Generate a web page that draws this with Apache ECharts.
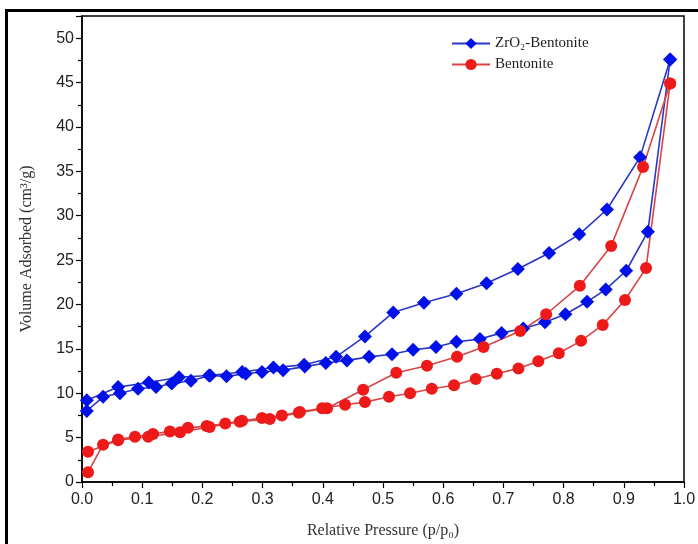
<!DOCTYPE html>
<html>
<head>
<meta charset="utf-8">
<script src="https://cdn.jsdelivr.net/npm/echarts@6/dist/echarts.min.js"></script>
<style>
  html, body { margin: 0; padding: 0; background: #fff; }
  #chart { width: 698px; height: 544px; }
  #frame { position: absolute; left: 5px; top: 9px; width: 700px; height: 540px;
           border-left: 3px solid #000; border-top: 3px solid #000; pointer-events: none; }
</style>
</head>
<body>
<div id="chart"></div>
<div id="frame"></div>
<script>
// ZrO2-Bentonite, adsorption branch
const zrAdsP = [0.008, 0.035, 0.063, 0.093, 0.123, 0.149, 0.181, 0.213, 0.24, 0.272, 0.299, 0.334, 0.37, 0.405, 0.44,
  0.477, 0.515, 0.55, 0.588, 0.622, 0.661, 0.697, 0.733, 0.769, 0.803, 0.839, 0.87, 0.904, 0.94, 0.977]
const zrAdsV = [8.0, 9.6, 10.0, 10.5, 10.7, 11.1, 11.4, 12.0, 11.9, 12.2, 12.4, 12.6, 13.0, 13.4, 13.7,
  14.1, 14.4, 14.9, 15.2, 15.8, 16.1, 16.8, 17.3, 18.0, 18.9, 20.3, 21.7, 23.8, 28.2, 47.6]
// ZrO2-Bentonite, desorption branch
const zrDesP = [0.977, 0.927, 0.872, 0.826, 0.776, 0.724, 0.672, 0.622, 0.568, 0.517, 0.47, 0.422, 0.369, 0.318,
  0.266, 0.211, 0.161, 0.111, 0.06, 0.008]
const zrDesV = [47.6, 36.6, 30.7, 27.9, 25.8, 24.0, 22.4, 21.2, 20.2, 19.1, 16.4, 14.1, 13.2, 12.9,
  12.4, 12.0, 11.8, 11.2, 10.7, 9.2]
// Bentonite, adsorption branch
const beAdsP = [0.01, 0.035, 0.06, 0.088, 0.118, 0.146, 0.176, 0.207, 0.238, 0.266, 0.299, 0.332, 0.362, 0.399, 0.437,
  0.47, 0.51, 0.545, 0.581, 0.618, 0.654, 0.689, 0.725, 0.758, 0.792, 0.829, 0.865, 0.902, 0.937, 0.977]
const beAdsV = [1.1, 4.2, 4.8, 5.1, 5.4, 5.7, 6.1, 6.3, 6.6, 6.9, 7.2, 7.5, 7.9, 8.3, 8.7,
  9.0, 9.6, 10.0, 10.5, 10.9, 11.6, 12.2, 12.8, 13.6, 14.5, 15.9, 17.7, 20.5, 24.1, 44.9]
// Bentonite, desorption branch
const beDesP = [0.977, 0.932, 0.879, 0.827, 0.771, 0.728, 0.667, 0.623, 0.573, 0.522, 0.467, 0.407, 0.36, 0.312,
  0.262, 0.212, 0.163, 0.11, 0.06, 0.01]
const beDesV = [44.9, 35.5, 26.6, 22.1, 18.9, 17.0, 15.2, 14.1, 13.1, 12.3, 10.4, 8.3, 7.8, 7.1,
  6.8, 6.2, 5.6, 5.1, 4.7, 3.4]

const seriesNames = ['ZrO₂-Bentonite', 'Bentonite']

const zip = (xs, ys) => xs.map((x, i) => [x, ys[i]])

const blue = { symbol: 'diamond', symbolSize: 14, itemStyle: { color: '#0010e8' }, lineStyle: { color: '#2a36c4', width: 1.6 } }
const red = { symbol: 'circle', symbolSize: 12, itemStyle: { color: '#ee1a1a' }, lineStyle: { color: '#d84545', width: 1.6 } }

const chart = echarts.init(document.getElementById('chart'))
const axisText = { color: '#222', fontSize: 16, fontFamily: 'Liberation Sans' }
const nameText = { color: '#333', fontSize: 16, fontFamily: 'Liberation Serif' }

chart.setOption({
  animation: false,
  grid: {
    left: 82, right: 14, top: 16, bottom: 62,
    outerBoundsMode: 'none',
    show: true, borderColor: '#000', borderWidth: 1.5
  },
  legend: {
    data: seriesNames,
    orient: 'vertical',
    left: 446,
    top: 31,
    itemWidth: 38,
    itemHeight: 14,
    itemGap: 6,
    textStyle: { fontFamily: 'Liberation Serif', fontSize: 15, color: '#222' }
  },
  xAxis: {
    type: 'value',
    min: 0,
    max: 1,
    interval: 0.1,
    name: 'Relative Pressure (p/p₀)',
    nameLocation: 'middle',
    nameGap: 41,
    nameTextStyle: nameText,
    axisLine: { lineStyle: { color: '#000', width: 1.5 } },
    axisTick: { length: 6, lineStyle: { color: '#000', width: 1.2 } },
    minorTick: { show: true, splitNumber: 2, length: 4, lineStyle: { color: '#000', width: 1.2 } },
    splitLine: { show: false },
    axisLabel: { ...axisText, margin: 10, formatter: v => v.toFixed(1) }
  },
  yAxis: {
    type: 'value',
    min: 0,
    max: 52.5,
    interval: 5,
    name: 'Volume Adsorbed (cm³/g)',
    nameLocation: 'middle',
    nameGap: 47,
    nameTextStyle: nameText,
    axisLine: { lineStyle: { color: '#000', width: 1.5 } },
    axisTick: { length: 6, lineStyle: { color: '#000', width: 1.2 } },
    minorTick: { show: true, splitNumber: 2, length: 4, lineStyle: { color: '#000', width: 1.2 } },
    splitLine: { show: false },
    axisLabel: { ...axisText, margin: 8, showMaxLabel: false }
  },
  series: [
    { name: seriesNames[0], type: 'line', data: zip(zrAdsP, zrAdsV), ...blue },
    { name: seriesNames[0], type: 'line', data: zip(zrDesP, zrDesV), ...blue },
    { name: seriesNames[1], type: 'line', data: zip(beAdsP, beAdsV), ...red },
    { name: seriesNames[1], type: 'line', data: zip(beDesP, beDesV), ...red }
  ]
})
</script>
</body>
</html>
